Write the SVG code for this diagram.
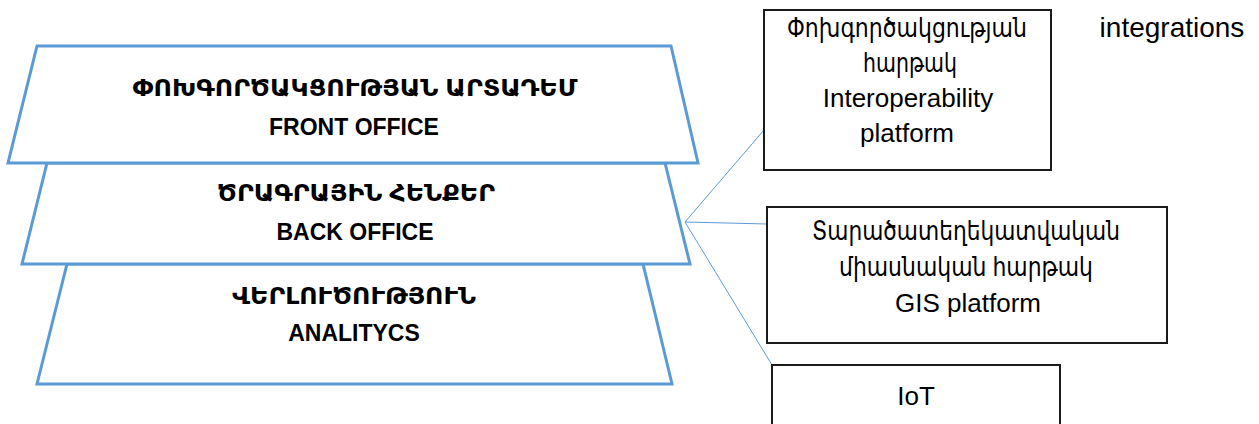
<svg xmlns="http://www.w3.org/2000/svg" width="1259" height="424" viewBox="0 0 1259 424">
<style>
.trap{fill:#ffffff;stroke:#5b9bd5;stroke-width:3;stroke-linejoin:miter}
.box{fill:#ffffff;stroke:#1a1a1a;stroke-width:2}
.conn{stroke:#5b9bd5;stroke-width:1;fill:none}
.tb{font-family:"Liberation Sans","DejaVu Sans",sans-serif;font-weight:bold;font-size:23px;fill:#000;text-anchor:middle}
.tr{font-family:"Liberation Sans","DejaVu Sans",sans-serif;font-size:26px;fill:#000;text-anchor:middle}
</style>
<rect width="1259" height="424" fill="#ffffff"/>
<g id="analytics">
<polygon class="trap" points="67,264 643,264 672,384 37,384"/>
<text class="tb" x="354" y="304" textLength="244" lengthAdjust="spacingAndGlyphs">ՎԵՐԼՈՒԾՈՒԹՅՈՒՆ</text>
<text class="tb" x="354" y="341">ANALITYCS</text>
</g>
<g id="back-office">
<polygon class="trap" points="47,163 665,163 690,264 22,264"/>
<text class="tb" x="356" y="201" textLength="278" lengthAdjust="spacingAndGlyphs">ԾՐԱԳՐԱՅԻՆ ՀԵՆՔԵՐ</text>
<text class="tb" x="355" y="240">BACK OFFICE</text>
</g>
<g id="front-office">
<polygon class="trap" points="37,46 671,46 698,163 8,163"/>
<text class="tb" x="355" y="96" textLength="445" lengthAdjust="spacingAndGlyphs">ՓՈԽԳՈՐԾԱԿՑՈՒԹՅԱՆ ԱՐՏԱԴԵՄ</text>
<text class="tb" x="354" y="135">FRONT OFFICE</text>
</g>
<g id="connectors">
<line class="conn" x1="685" y1="222" x2="764" y2="130"/>
<line class="conn" x1="685" y1="222" x2="767" y2="224"/>
<line class="conn" x1="685" y1="222" x2="772" y2="365"/>
</g>
<g id="interoperability">
<rect class="box" x="764" y="10" width="287" height="160"/>
<text class="tr" x="907" y="37" textLength="240" lengthAdjust="spacingAndGlyphs">Փոխգործակցության</text>
<text class="tr" x="910" y="72" textLength="94" lengthAdjust="spacingAndGlyphs">հարթակ</text>
<text class="tr" x="908" y="107">Interoperability</text>
<text class="tr" x="907" y="142">platform</text>
</g>
<g id="gis">
<rect class="box" x="767" y="207" width="400" height="136"/>
<text class="tr" x="966" y="240" textLength="308" lengthAdjust="spacingAndGlyphs">Տարածատեղեկատվական</text>
<text class="tr" x="966" y="276" textLength="254" lengthAdjust="spacingAndGlyphs">միասնական հարթակ</text>
<text class="tr" x="968" y="312">GIS platform</text>
</g>
<g id="iot">
<rect class="box" x="772" y="365" width="288" height="70"/>
<text class="tr" x="916" y="405">IoT</text>
</g>
<g id="integrations">
<text class="tr" x="1172" y="37" style="font-size:28px">integrations</text>
</g>
</svg>
